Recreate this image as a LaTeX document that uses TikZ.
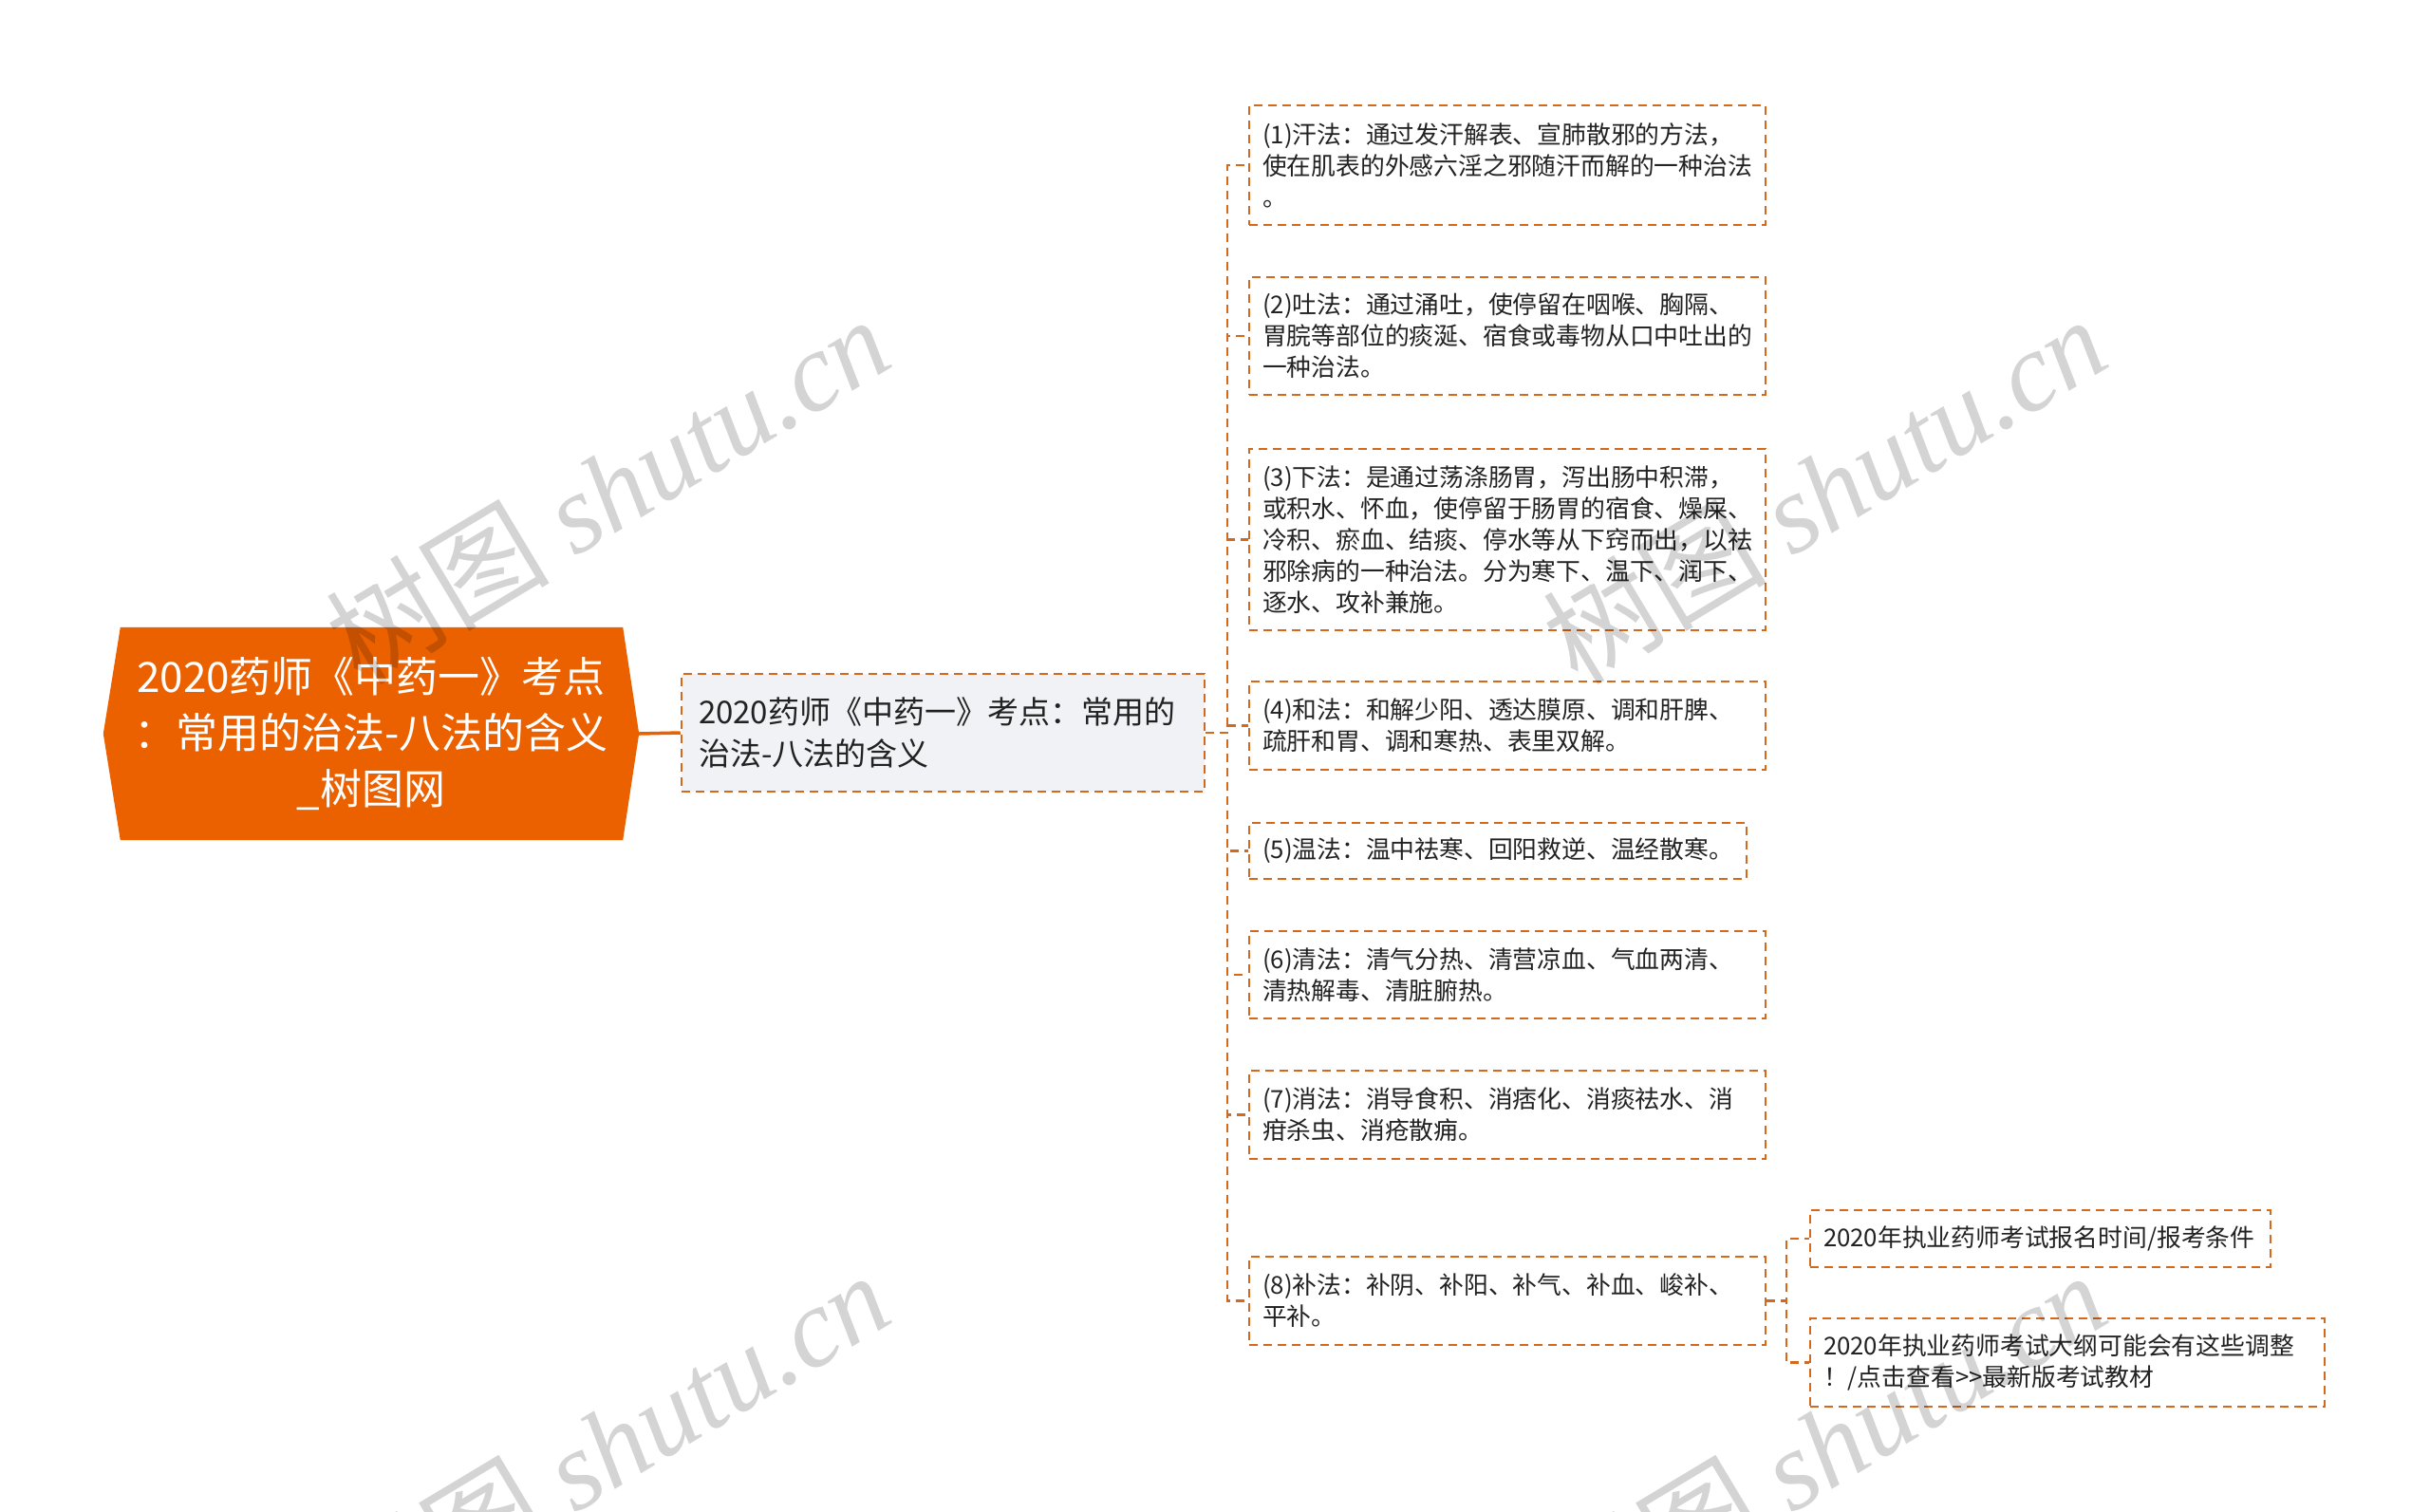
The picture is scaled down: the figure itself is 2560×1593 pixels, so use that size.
\documentclass[tikz,border=0pt]{standalone}
\usepackage{fontspec}
\setmainfont{Noto Sans CJK SC}
\newfontfamily\wmlatin{Liberation Serif}
\newfontfamily\wmcjk{Noto Sans CJK SC}
\usetikzlibrary{backgrounds}
\definecolor{lineor}{HTML}{D2691E}
\definecolor{rootor}{HTML}{EB6100}
\definecolor{subfill}{HTML}{F0F2F5}
\definecolor{txt}{HTML}{222222}
\tikzset{
  conn/.style={draw=lineor, line width=2.5pt, dash pattern=on 9pt off 6pt},
  leaf/.style={draw=lineor, line width=2.5pt, dash pattern=on 9pt off 6pt, fill=white,
    align=left, inner xsep=14pt, inner ysep=0pt, text=txt,
    font=\fontsize{25.8}{33}\selectfont},
  wmark/.style={rotate=31, text=black, text opacity=0.17, inner sep=0pt,
    font=\fontsize{118}{118}\selectfont}
}
\begin{document}
\begin{tikzpicture}[x=1pt,y=-1pt]
\useasboundingbox (0,0) rectangle (2560,1593);
% root text node (its box spans the hexagon)
\node[minimum width=564pt, minimum height=224pt, inner sep=0pt, align=center, text=white,
  font=\fontsize{44}{59}\selectfont] (root) at (391,773)
  {2020药师《中药一》考点\\：常用的治法-八法的含义\\\_树图网};
\begin{scope}[on background layer]
  \fill[white] (0,0) rectangle (2560,1593);
  \fill[rootor] (root.west) -- ([xshift=18pt]root.north west) -- ([xshift=-17pt]root.north east)
    -- (root.east) -- ([xshift=-17pt]root.south east) -- ([xshift=18pt]root.south west) -- cycle;
\end{scope}
% second level
\node[draw=lineor, line width=2.5pt, dash pattern=on 9pt off 6pt, fill=subfill,
  align=left, inner xsep=18pt, inner ysep=0pt, text width=515pt, minimum height=124pt,
  text=txt, font=\fontsize{33}{44}\selectfont] (n2) at (993.5,772)
  {2020药师《中药一》考点：常用的\\治法-八法的含义};
% children
\node[leaf, text width=516pt, minimum height=126pt] (c1) at (1588,174)
  {(1)汗法：通过发汗解表、宣肺散邪的方法，\\使在肌表的外感六淫之邪随汗而解的一种治法\\。};
\node[leaf, text width=516pt, minimum height=124pt] (c2) at (1588,354)
  {(2)吐法：通过涌吐，使停留在咽喉、胸隔、\\胃脘等部位的痰涎、宿食或毒物从口中吐出的\\一种治法。};
\node[leaf, text width=516pt, minimum height=191pt] (c3) at (1588,568.5)
  {(3)下法：是通过荡涤肠胃，泻出肠中积滞，\\或积水、怀血，使停留于肠胃的宿食、燥屎、\\冷积、瘀血、结痰、停水等从下窍而出，以祛\\邪除病的一种治法。分为寒下、温下、润下、\\逐水、攻补兼施。};
\node[leaf, text width=516pt, minimum height=93pt] (c4) at (1588,764.5)
  {(4)和法：和解少阳、透达膜原、调和肝脾、\\疏肝和胃、调和寒热、表里双解。};
\node[leaf, text width=496pt, minimum height=59pt] (c5) at (1578,896.5)
  {(5)温法：温中祛寒、回阳救逆、温经散寒。};
\node[leaf, text width=516pt, minimum height=92pt] (c6) at (1588,1027)
  {(6)清法：清气分热、清营凉血、气血两清、\\清热解毒、清脏腑热。};
\node[leaf, text width=516pt, minimum height=93pt] (c7) at (1588,1174.5)
  {(7)消法：消导食积、消痞化、消痰祛水、消\\疳杀虫、消疮散痈。};
\node[leaf, text width=516pt, minimum height=93pt] (c8) at (1588,1370.5)
  {(8)补法：补阴、补阳、补气、补血、峻补、\\平补。};
\node[leaf, text width=457pt, minimum height=60pt] (s1) at (2149.5,1305)
  {2020年执业药师考试报名时间/报考条件};
\node[leaf, text width=514pt, minimum height=93pt] (s2) at (2178,1435.5)
  {2020年执业药师考试大纲可能会有这些调整\\！/点击查看>{}>最新版考试教材};
% connectors
\coordinate (t1) at (1293,772);
\coordinate (t2) at (1882,1370.5);
\draw[draw=rootor, line width=3.5pt] (root.east) -- (n2.west);
\foreach \c in {c1,c2,c3,c4,c5,c6,c7,c8}
  \draw[conn] (n2.east) -- (t1) |- (\c.west);
\foreach \c in {s1,s2}
  \draw[conn] (c8.east) -- (t2) |- (\c.west);
% watermarks
\node[wmark] (w1) at (640,515) {\wmcjk 树图 \wmlatin\itshape shutu.cn};
\node[wmark] (w2) at (1922,515) {\wmcjk 树图 \wmlatin\itshape shutu.cn};
\node[wmark] (w3) at (640,1522) {\wmcjk 树图 \wmlatin\itshape shutu.cn};
\node[wmark] (w4) at (1922,1522) {\wmcjk 树图 \wmlatin\itshape shutu.cn};
\end{tikzpicture}
\end{document}
